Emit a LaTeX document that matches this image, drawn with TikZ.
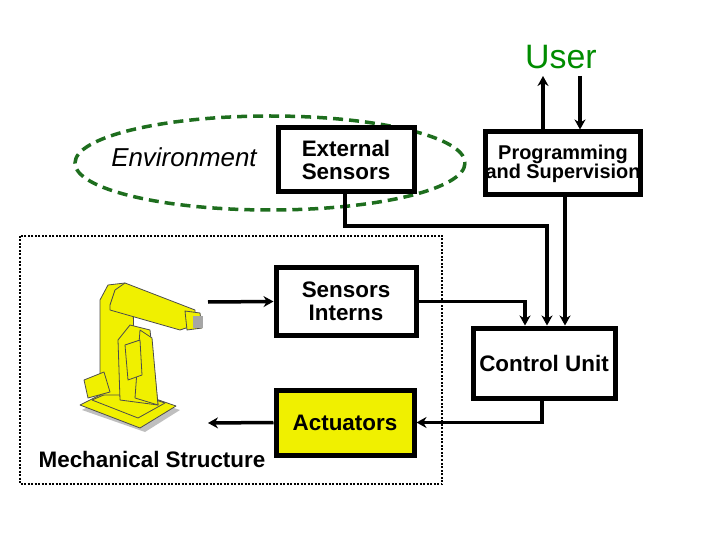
\documentclass[tikz,border=0pt]{standalone}
\usepackage{fontspec}
\setmainfont{Liberation Sans}
\usetikzlibrary{arrows.meta}
\definecolor{ugreen}{RGB}{0,140,0}
\definecolor{dgreen}{RGB}{30,110,30}
\definecolor{ryel}{RGB}{240,240,0}
\begin{document}
\begin{tikzpicture}[x=1bp,y=-1bp,
  box/.style={draw,line width=5bp,inner sep=0,align=center,font=\bfseries\fontsize{22.5}{23}\selectfont},
  arr/.style={line width=3.5bp,-{Stealth[length=10bp,width=11bp]}},
  rob/.style={fill=ryel,draw=black!70,line width=0.8bp,line join=round}]
\useasboundingbox (0,0) rectangle (720,540);
% environment ellipse
\draw[dgreen,line width=3.5bp,dash pattern=on 10bp off 6bp] (270,163) ellipse [x radius=195,y radius=47];
\node[font=\itshape\fontsize{26}{26}\selectfont] (env) at (184,157) {Environment};
% dotted mechanical region
\draw[line width=2.5bp,dash pattern=on 2bp off 1.5bp] (20,236) rectangle (442,484);
\node[font=\bfseries\fontsize{22.5}{22.5}\selectfont] (mech) at (152,459) {Mechanical Structure};
% user
\node[text=ugreen,font=\fontsize{34}{34}\selectfont] (user) at (561,57) {User};
\coordinate (uu) at (543,76);
\coordinate (ud) at (580,76);
% boxes
\node[box,minimum width=136bp,minimum height=64bp,fill=white] (ext) at (346,160) {External\\Sensors};
\node[box,minimum width=138bp,minimum height=63bp,font=\bfseries\fontsize{20}{19}\selectfont] (prog) at (563,163.5) {Programming\\and Supervision};
\node[box,minimum width=140bp,minimum height=67bp] (sint) at (346,301.5) {Sensors\\Interns};
\node[box,minimum width=142bp,minimum height=70bp] (cu) at (544,363) {Control Unit};
\node[box,minimum width=138bp,minimum height=65bp,fill=ryel] (act) at (345,422.5) {Actuators};
% connectors
\draw[arr] (prog.north -| uu) -- (uu);
\draw[arr] (ud) -- (prog.north -| ud);
\draw[arr] (ext.south -| 345,0) -- (345,226) -| (cu.north -| 547,0);
\draw[arr] (prog.south -| 565,0) -- (cu.north -| 565,0);
\draw[arr] (sint.east) -| (cu.north -| 525,0);
\draw[arr] (cu.south -| 542,0) |- (act.east);
\coordinate (rin) at (208,302);
\coordinate (rout) at (208,423);
\draw[arr] (rin) -- (sint.west);
\draw[arr] (act.west) -- (rout);
% robot
\begin{scope}
\fill[gray!50] (82,410) -- (145,432) -- (180,410) -- (120,390) -- cycle;
\draw[rob] (80,405) -- (140,428) -- (176,406) -- (118,386) -- cycle;
\draw[rob] (92,400) -- (138,418) -- (165,403) -- (120,388) -- cycle;
\draw[rob] (100,395) -- (100,300) -- (108,285) -- (125,283) -- (133,300) -- (135,395) -- cycle;
\draw[rob] (120,400) -- (118,340) -- (130,325) -- (150,330) -- (158,405) -- cycle;
\draw[rob] (135,398) -- (140,330) -- (152,338) -- (158,405) -- cycle;
\draw[rob] (110,305) -- (115,290) -- (125,283) -- (195,310) -- (195,325) -- (180,330) -- (110,310) -- cycle;
\draw[rob] (185,311) -- (200,313) -- (202,328) -- (187,330) -- cycle;
\fill[gray!70] (193,316) rectangle (203,328);
\draw[rob] (84,380) -- (104,372) -- (110,392) -- (88,398) -- cycle;
\draw[rob] (125,345) -- (140,340) -- (142,375) -- (128,380) -- cycle;
\end{scope}
\end{tikzpicture}
\end{document}
